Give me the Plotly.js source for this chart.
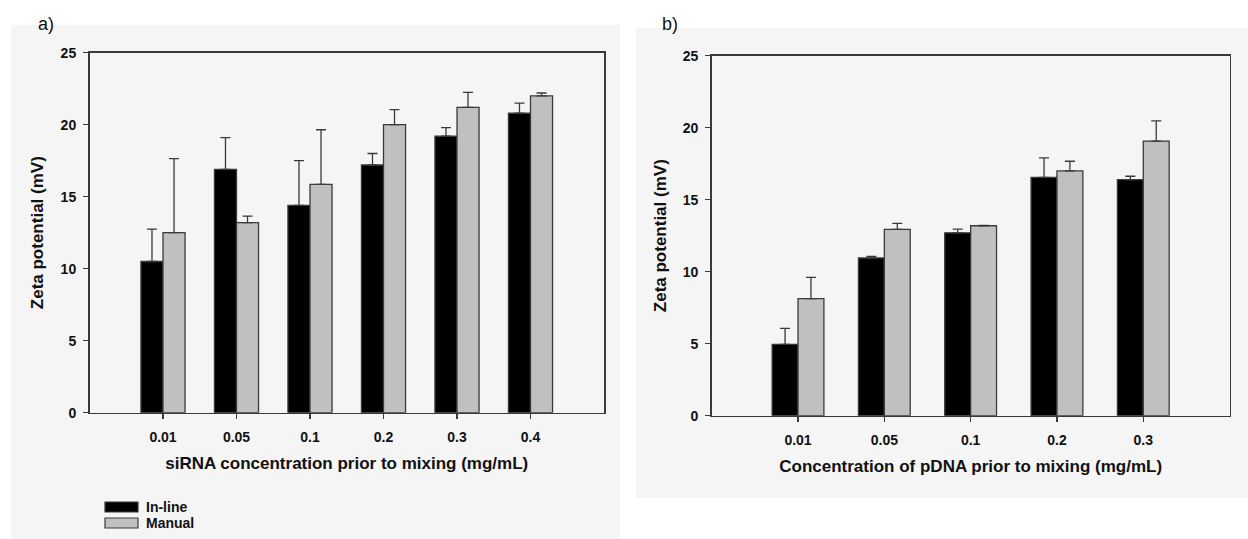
<!DOCTYPE html>
<html>
<head>
<meta charset="utf-8">
<script src="https://cdn.plot.ly/plotly-3.0.1.min.js"></script>
<style>html,body{margin:0;padding:0;background:#fff;}#chart{width:1248px;height:539px;}</style>
</head>
<body>
<div id="chart"></div>
<script>
// Panel a) siRNA
const catsA = ['0.01', '0.05', '0.1', '0.2', '0.3', '0.4'];
const inlineA = [10.5, 16.9, 14.4, 17.2, 19.2, 20.8];
const inlineAErr = [2.25, 2.2, 3.1, 0.8, 0.6, 0.7];
const manualA = [12.5, 13.2, 15.85, 20.0, 21.2, 22.0];
const manualAErr = [5.15, 0.45, 3.8, 1.05, 1.05, 0.2];

// Panel b) pDNA
const catsB = ['0.01', '0.05', '0.1', '0.2', '0.3'];
const inlineB = [4.95, 10.95, 12.7, 16.55, 16.4];
const inlineBErr = [1.12, 0.12, 0.25, 1.35, 0.23];
const manualB = [8.13, 12.94, 13.19, 17.0, 19.07];
const manualBErr = [1.48, 0.42, 0.02, 0.67, 1.4];

const seriesNames = ['In-line', 'Manual'];
const titleA = 'siRNA concentration prior to mixing (mg/mL)';
const titleB = 'Concentration of pDNA prior to mixing (mg/mL)';
const yTitle = 'Zeta potential (mV)';

const W = 1248, H = 539;
const px = x => x / W;
const py = y => 1 - y / H;

const FONT = 'Liberation Sans, Arial, Helvetica, sans-serif';
const edge = '#3a3a3a';

function barTrace(cats, vals, errs, name, color, xa, ya) {
  return {
    type: 'bar', x: cats, y: vals, name: name, xaxis: xa, yaxis: ya,
    showlegend: false,
    marker: {color: color, line: {color: edge, width: 1.3}},
    error_y: {type: 'data', symmetric: false, array: errs,
      arrayminus: errs.map(() => 0), color: edge, thickness: 1.3, width: 5}
  };
}

const data = [
  barTrace(catsA, inlineA, inlineAErr, seriesNames[0], '#000000', 'x', 'y'),
  barTrace(catsA, manualA, manualAErr, seriesNames[1], '#c0c0c0', 'x', 'y'),
  barTrace(catsB, inlineB, inlineBErr, seriesNames[0], '#000000', 'x2', 'y2'),
  barTrace(catsB, manualB, manualBErr, seriesNames[1], '#c0c0c0', 'x2', 'y2')
];

const tickFont = {family: FONT, size: 14, color: '#111', weight: 'bold'};
const titleFont = {family: FONT, size: 17, color: '#111', weight: 'bold'};

function xAxis(domain, range, title, anchor) {
  return {
    domain: domain, range: range, type: 'category', anchor: anchor,
    showline: true, mirror: true, linecolor: edge, linewidth: 1.5,
    ticks: 'outside', ticklen: 5, tickcolor: edge, tickwidth: 1.3,
    showgrid: false, zeroline: false, tickfont: tickFont, ticklabelstandoff: 6,
    title: {text: title, font: titleFont, standoff: 13},
    fixedrange: true
  };
}
function yAxis(domain, anchor) {
  return {
    domain: domain, range: [0, 25], dtick: 5, anchor: anchor,
    showline: true, mirror: true, linecolor: edge, linewidth: 1.5,
    ticks: 'outside', ticklen: 5, tickcolor: edge, tickwidth: 1.3,
    showgrid: false, zeroline: false, tickfont: tickFont, ticklabelstandoff: 4,
    title: {text: yTitle, font: titleFont, standoff: 12},
    fixedrange: true
  };
}

const layout = {
  width: W, height: H,
  margin: {l: 0, r: 0, t: 0, b: 0},
  paper_bgcolor: '#ffffff',
  plot_bgcolor: 'rgba(0,0,0,0)',
  barmode: 'group', bargap: 0.4, bargroupgap: 0,
  showlegend: false,
  xaxis: xAxis([px(89.5), px(604)], [-1, 6], titleA, 'y'),
  yaxis: yAxis([py(412.7), py(52.7)], 'x'),
  xaxis2: xAxis([px(711.7), px(1229.6)], [-1, 5], titleB, 'y2'),
  yaxis2: yAxis([py(415.7), py(55.7)], 'x2'),
  shapes: [
    {type: 'rect', xref: 'paper', yref: 'paper', layer: 'below',
      x0: px(11), x1: px(620), y0: py(539), y1: py(25),
      fillcolor: '#f5f5f5', line: {width: 0}},
    {type: 'rect', xref: 'paper', yref: 'paper', layer: 'below',
      x0: px(636), x1: px(1248), y0: py(498), y1: py(28),
      fillcolor: '#f5f5f5', line: {width: 0}},
    // legend swatches
    {type: 'rect', xref: 'paper', yref: 'paper',
      x0: px(105), x1: px(138), y0: py(512), y1: py(502),
      fillcolor: '#000000', line: {color: edge, width: 1.2}},
    {type: 'rect', xref: 'paper', yref: 'paper',
      x0: px(105), x1: px(138), y0: py(528), y1: py(518),
      fillcolor: '#c0c0c0', line: {color: edge, width: 1.2}}
  ],
  annotations: [
    {text: 'a)', xref: 'paper', yref: 'paper', x: px(36), y: py(24),
      xanchor: 'left', yanchor: 'middle', showarrow: false,
      font: {family: FONT, size: 18, color: '#111'}},
    {text: 'b)', xref: 'paper', yref: 'paper', x: px(660), y: py(24),
      xanchor: 'left', yanchor: 'middle', showarrow: false,
      font: {family: FONT, size: 18, color: '#111'}},
    {text: seriesNames[0], xref: 'paper', yref: 'paper', x: px(144), y: py(507),
      xanchor: 'left', yanchor: 'middle', showarrow: false,
      font: {family: FONT, size: 14, color: '#111', weight: 'bold'}},
    {text: seriesNames[1], xref: 'paper', yref: 'paper', x: px(144), y: py(523),
      xanchor: 'left', yanchor: 'middle', showarrow: false,
      font: {family: FONT, size: 14, color: '#111', weight: 'bold'}}
  ]
};

Plotly.newPlot('chart', data, layout, {displayModeBar: false, staticPlot: true});
</script>
</body>
</html>
